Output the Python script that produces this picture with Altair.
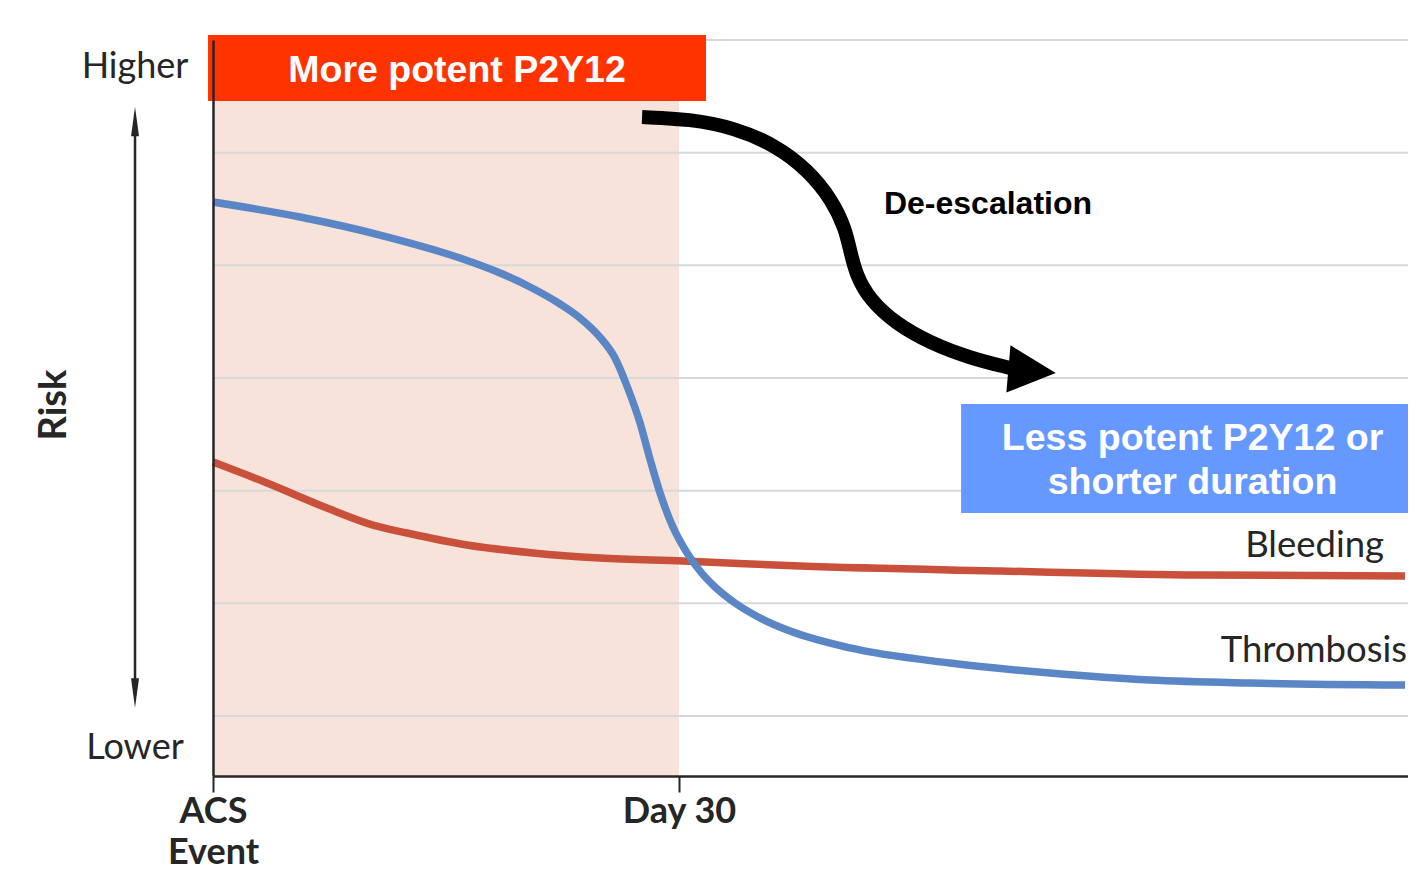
import altair as alt
import pandas as pd

# ---- data (days after ACS, relative risk units; gridlines at 0..6) ----
thromb_day = [0, 5.6, 10.75, 15.9, 18.48, 20.41, 22.34, 23.63, 24.91, 25.88, 26.65, 27.49, 28.13, 28.78,
              29.61, 30.52, 31.35, 32.32, 33.61, 35.22, 37.15, 41.01, 47.45, 53.89, 60.32, 66.76, 76.74]
thromb_risk = [4.562, 4.429, 4.269, 4.065, 3.932, 3.808, 3.657, 3.532, 3.363, 3.177, 2.929, 2.601, 2.281, 1.979,
               1.677, 1.447, 1.287, 1.145, 1.003, 0.870, 0.754, 0.604, 0.470, 0.382, 0.320, 0.293, 0.275]
bleed_day = [0, 3.48, 7.34, 10.30, 12.49, 16.35, 20.60, 24.91, 30.26, 37.79, 50.67, 63.54, 76.74]
bleed_risk = [2.254, 2.068, 1.846, 1.695, 1.624, 1.518, 1.447, 1.402, 1.376, 1.331, 1.287, 1.251, 1.243]

arrow_day = [27.62, 30.71, 33.61, 36.18, 38.31, 39.85, 40.69, 41.01, 41.40, 42.30, 43.91, 46.16, 48.73, 51.31]
arrow_risk = [5.316, 5.299, 5.219, 5.068, 4.846, 4.580, 4.331, 4.136, 3.914, 3.692, 3.488, 3.311, 3.177, 3.089]

grid_levels = [0, 1, 2, 3, 4, 5, 6]
tick_days = [0, 30]

X_MAX = 76.93
Y_MIN, Y_MAX = -0.5325, 6.0

xs = alt.Scale(domain=[0, X_MAX], nice=False, zero=False)
ys = alt.Scale(domain=[Y_MIN, Y_MAX], nice=False, zero=False)

GILL = "Lato"
ARIAL = "Liberation Sans"
DARK = "#262626"

X_AXIS = alt.Axis(values=tick_days, labelExpr="datum.value == 0 ? ['ACS', 'Event'] : 'Day 30'",
                  title=None, grid=False, domainColor=DARK, domainWidth=2.5, tickColor=DARK,
                  tickWidth=2, tickSize=16, labelFont=GILL, labelFontWeight="bold", labelFontSize=36,
                  labelColor=DARK, labelPadding=2, labelLineHeight=41, labelOverlap=False,
                  labelFlush=False, zindex=1)
Y_AXIS = alt.Axis(title=None, grid=False, ticks=False, labels=False, domainColor=DARK,
                  domainWidth=2.5, zindex=1)


def X(field="x"):
    return alt.X(f"{field}:Q", scale=xs, axis=X_AXIS)


def Y(field="y"):
    return alt.Y(f"{field}:Q", scale=ys, axis=Y_AXIS)


# shaded first 30 days
shade = alt.Chart(pd.DataFrame({"x": [0], "x2": [30], "y": [Y_MIN], "y2": [Y_MAX]})).mark_rect(
    color="#F7E3D9").encode(x=X("x"), x2="x2", y=Y("y"), y2="y2")

grid = alt.Chart(pd.DataFrame({"y": grid_levels, "x": [0] * 7, "x2": [X_MAX] * 7})).mark_rule(
    color="#D6D8DB", strokeWidth=2).encode(x=X("x"), x2="x2", y=Y("y"))

bleed = alt.Chart(pd.DataFrame({"x": bleed_day, "y": bleed_risk})).mark_line(
    color="#C9503A", strokeWidth=7.5, interpolate="monotone").encode(x=X(), y=Y())

thromb = alt.Chart(pd.DataFrame({"x": thromb_day, "y": thromb_risk})).mark_line(
    color="#5A86C6", strokeWidth=7.5, interpolate="monotone").encode(x=X(), y=Y())

# boxes
red_box = alt.Chart(pd.DataFrame({"x": [-0.32], "x2": [31.74], "y": [6.044], "y2": [5.458]})).mark_rect(
    color="#FF3300").encode(x=X("x"), x2="x2", y=Y("y"), y2="y2")
blue_box = alt.Chart(pd.DataFrame({"x": [48.16], "x2": [X_MAX], "y": [2.769], "y2": [1.802]})).mark_rect(
    color="#6699FF").encode(x=X("x"), x2="x2", y=Y("y"), y2="y2")

red_text = alt.Chart(pd.DataFrame({"x": [15.71], "y": [5.627], "t": ["More potent P2Y12"]})).mark_text(
    font=ARIAL, fontWeight="bold", fontSize=37.5, color="white", align="center", baseline="alphabetic").encode(
    x=X(), y=Y(), text="t:N")
blue_text = alt.Chart(pd.DataFrame({"x": [63.06], "y": [2.361]})).mark_text(
    font=ARIAL, fontWeight="bold", fontSize=37.5, color="white", align="center", baseline="alphabetic",
    lineHeight=44, text=["Less potent P2Y12 or", "shorter duration"]).encode(x=X(), y=Y())

# de-escalation arrow
arrow_line = alt.Chart(pd.DataFrame({"x": arrow_day, "y": arrow_risk, "o": list(range(len(arrow_day)))})).mark_line(
    color="black", strokeWidth=14, interpolate="basis", strokeCap="butt").encode(
    x=X(), y=Y(), order="o:Q")
arrow_head = alt.Chart(pd.DataFrame({"x": [52.73], "y": [3.062]})).mark_point(
    shape="M1,0L-1,-1L-1,1Z", size=2256, filled=True, color="black", opacity=1, angle=5).encode(x=X(), y=Y())
deesc = alt.Chart(pd.DataFrame({"x": [49.89], "y": [4.456], "t": ["De-escalation"]})).mark_text(
    font=ARIAL, fontWeight="bold", fontSize=32, color="black", align="center", baseline="alphabetic").encode(
    x=X(), y=Y(), text="t:N")

# curve labels
curve_labels = alt.Chart(pd.DataFrame({"x": [75.39, 76.87], "y": [1.411, 0.479], "t": ["Bleeding", "Thrombosis"]})).mark_text(
    font=GILL, fontSize=36.5, color=DARK, align="right", baseline="alphabetic").encode(x=X(), y=Y(), text="t:N")

# risk scale annotation (left)
risk_words = alt.Chart(pd.DataFrame({"x": [-5.02, -5.02], "y": [5.663, -0.382], "t": ["Higher", "Lower"]})).mark_text(
    font=GILL, fontSize=36, color=DARK, align="center", baseline="alphabetic").encode(x=X(), y=Y(), text="t:N")
risk_shaft = alt.Chart(pd.DataFrame({"x": [-5.02], "y": [5.25], "y2": [0.23]})).mark_rule(
    color=DARK, strokeWidth=2.5).encode(x=X(), y=Y(), y2="y2")
risk_up = alt.Chart(pd.DataFrame({"x": [-5.02], "y": [5.276]})).mark_point(
    shape="M0,-1L-0.27,1L0.27,1Z", size=870, filled=True, color=DARK, opacity=1).encode(x=X(), y=Y())
risk_down = alt.Chart(pd.DataFrame({"x": [-5.02], "y": [0.204]})).mark_point(
    shape="M0,1L-0.27,-1L0.27,-1Z", size=870, filled=True, color=DARK, opacity=1).encode(x=X(), y=Y())
risk_title = alt.Chart(pd.DataFrame({"x": [-10.2], "y": [2.76], "t": ["Risk"]})).mark_text(
    font=GILL, fontWeight="bold", fontSize=38, color=DARK, align="center", baseline="middle", angle=270).encode(
    x=X(), y=Y(), text="t:N")

chart = alt.layer(
    shade, grid, bleed, thromb, red_box, red_text, blue_box, blue_text,
    arrow_line, arrow_head, deesc, curve_labels, risk_words, risk_shaft, risk_up, risk_down, risk_title,
).properties(
    width=1195, height=736,
    autosize=alt.AutoSizeParams(type="none"),
    padding={"left": 205, "top": 32, "right": 0, "bottom": 95},
    background="white",
).configure_view(stroke=None)

chart.save("out.html", embed_options={"renderer": "svg", "actions": False})
